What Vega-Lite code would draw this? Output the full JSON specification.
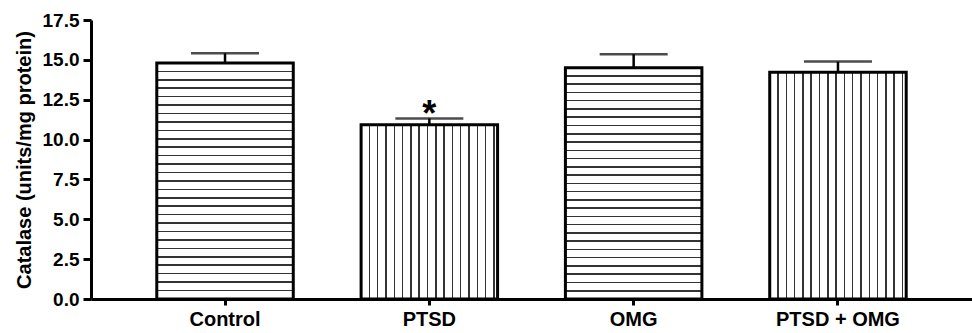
{
  "$schema": "https://vega.github.io/schema/vega-lite/v6.json",
  "autosize": "none",
  "width": 881,
  "height": 279,
  "padding": {"left": 91, "top": 20, "right": 0, "bottom": 34},
  "background": "white",
  "data": {
    "values": [
      {"group": "Control", "mean": 14.81, "sem": 0.6, "sig": ""},
      {"group": "PTSD", "mean": 10.93, "sem": 0.39, "sig": "*"},
      {"group": "OMG", "mean": 14.51, "sem": 0.84, "sig": ""},
      {"group": "PTSD + OMG", "mean": 14.23, "sem": 0.66, "sig": ""}
    ]
  },
  "config": {
    "view": {"stroke": null},
    "font": "Liberation Sans",
    "axis": {
      "domainColor": "black",
      "domainWidth": 3,
      "tickColor": "black",
      "tickWidth": 3,
      "labelColor": "black",
      "labelFont": "Liberation Sans",
      "labelFontWeight": "bold",
      "titleFont": "Liberation Sans",
      "titleFontWeight": "bold",
      "titleColor": "black",
      "grid": false,
      "labelOverlap": false
    },
    "axisY": {
      "titleFontSize": 20,
      "titlePadding": 8,
      "format": ".1f",
      "labelFontSize": 19,
      "tickSize": 8,
      "labelPadding": 4,
      "labelFlush": false
    }
  },
  "encoding": {
    "x": {
      "field": "group",
      "type": "nominal",
      "sort": ["Control", "PTSD", "OMG", "PTSD + OMG"],
      "scale": {"paddingInner": 0.332, "paddingOuter": 0.322},
      "axis": {"title": null, "labelAngle": 0, "labelFontSize": 20, "tickSize": 6, "labelPadding": 4}
    },
    "y": {
      "field": "mean",
      "type": "quantitative",
      "scale": {"domain": [0, 17.5], "nice": false},
      "axis": {
        "title": "Catalase (units/mg protein)",
        "values": [0, 2.5, 5, 7.5, 10, 12.5, 15, 17.5]
      }
    }
  },
  "layer": [
    {
      "mark": {
        "type": "errorbar",
        "ticks": {"size": 68, "thickness": 2.5, "color": "black"},
        "rule": {"strokeWidth": 2.5, "color": "black"}
      },
      "encoding": {
        "yError": {"field": "sem"}
      }
    },
    {
      "transform": [{"filter": "datum.group == 'Control' || datum.group == 'OMG'"}],
      "mark": {
        "type": "bar",
        "stroke": "black",
        "strokeWidth": 3,
        "fill": {
          "gradient": "linear", "x1": 0, "y1": 0, "x2": 0, "y2": 1,
          "stops": [
            {"offset": 0, "color": "#fff"},
            {"offset": 0.0324, "color": "#fff"}, {"offset": 0.0324, "color": "#333"}, {"offset": 0.0390, "color": "#333"}, {"offset": 0.0390, "color": "#fff"},
            {"offset": 0.0681, "color": "#fff"}, {"offset": 0.0681, "color": "#333"}, {"offset": 0.0747, "color": "#333"}, {"offset": 0.0747, "color": "#fff"},
            {"offset": 0.1038, "color": "#fff"}, {"offset": 0.1038, "color": "#333"}, {"offset": 0.1104, "color": "#333"}, {"offset": 0.1104, "color": "#fff"},
            {"offset": 0.1396, "color": "#fff"}, {"offset": 0.1396, "color": "#333"}, {"offset": 0.1462, "color": "#333"}, {"offset": 0.1462, "color": "#fff"},
            {"offset": 0.1753, "color": "#fff"}, {"offset": 0.1753, "color": "#333"}, {"offset": 0.1819, "color": "#333"}, {"offset": 0.1819, "color": "#fff"},
            {"offset": 0.2110, "color": "#fff"}, {"offset": 0.2110, "color": "#333"}, {"offset": 0.2176, "color": "#333"}, {"offset": 0.2176, "color": "#fff"},
            {"offset": 0.2467, "color": "#fff"}, {"offset": 0.2467, "color": "#333"}, {"offset": 0.2533, "color": "#333"}, {"offset": 0.2533, "color": "#fff"},
            {"offset": 0.2824, "color": "#fff"}, {"offset": 0.2824, "color": "#333"}, {"offset": 0.2890, "color": "#333"}, {"offset": 0.2890, "color": "#fff"},
            {"offset": 0.3181, "color": "#fff"}, {"offset": 0.3181, "color": "#333"}, {"offset": 0.3247, "color": "#333"}, {"offset": 0.3247, "color": "#fff"},
            {"offset": 0.3538, "color": "#fff"}, {"offset": 0.3538, "color": "#333"}, {"offset": 0.3604, "color": "#333"}, {"offset": 0.3604, "color": "#fff"},
            {"offset": 0.3896, "color": "#fff"}, {"offset": 0.3896, "color": "#333"}, {"offset": 0.3962, "color": "#333"}, {"offset": 0.3962, "color": "#fff"},
            {"offset": 0.4253, "color": "#fff"}, {"offset": 0.4253, "color": "#333"}, {"offset": 0.4319, "color": "#333"}, {"offset": 0.4319, "color": "#fff"},
            {"offset": 0.4610, "color": "#fff"}, {"offset": 0.4610, "color": "#333"}, {"offset": 0.4676, "color": "#333"}, {"offset": 0.4676, "color": "#fff"},
            {"offset": 0.4967, "color": "#fff"}, {"offset": 0.4967, "color": "#333"}, {"offset": 0.5033, "color": "#333"}, {"offset": 0.5033, "color": "#fff"},
            {"offset": 0.5324, "color": "#fff"}, {"offset": 0.5324, "color": "#333"}, {"offset": 0.5390, "color": "#333"}, {"offset": 0.5390, "color": "#fff"},
            {"offset": 0.5681, "color": "#fff"}, {"offset": 0.5681, "color": "#333"}, {"offset": 0.5747, "color": "#333"}, {"offset": 0.5747, "color": "#fff"},
            {"offset": 0.6038, "color": "#fff"}, {"offset": 0.6038, "color": "#333"}, {"offset": 0.6104, "color": "#333"}, {"offset": 0.6104, "color": "#fff"},
            {"offset": 0.6396, "color": "#fff"}, {"offset": 0.6396, "color": "#333"}, {"offset": 0.6462, "color": "#333"}, {"offset": 0.6462, "color": "#fff"},
            {"offset": 0.6753, "color": "#fff"}, {"offset": 0.6753, "color": "#333"}, {"offset": 0.6819, "color": "#333"}, {"offset": 0.6819, "color": "#fff"},
            {"offset": 0.7110, "color": "#fff"}, {"offset": 0.7110, "color": "#333"}, {"offset": 0.7176, "color": "#333"}, {"offset": 0.7176, "color": "#fff"},
            {"offset": 0.7467, "color": "#fff"}, {"offset": 0.7467, "color": "#333"}, {"offset": 0.7533, "color": "#333"}, {"offset": 0.7533, "color": "#fff"},
            {"offset": 0.7824, "color": "#fff"}, {"offset": 0.7824, "color": "#333"}, {"offset": 0.7890, "color": "#333"}, {"offset": 0.7890, "color": "#fff"},
            {"offset": 0.8181, "color": "#fff"}, {"offset": 0.8181, "color": "#333"}, {"offset": 0.8247, "color": "#333"}, {"offset": 0.8247, "color": "#fff"},
            {"offset": 0.8538, "color": "#fff"}, {"offset": 0.8538, "color": "#333"}, {"offset": 0.8604, "color": "#333"}, {"offset": 0.8604, "color": "#fff"},
            {"offset": 0.8896, "color": "#fff"}, {"offset": 0.8896, "color": "#333"}, {"offset": 0.8962, "color": "#333"}, {"offset": 0.8962, "color": "#fff"},
            {"offset": 0.9253, "color": "#fff"}, {"offset": 0.9253, "color": "#333"}, {"offset": 0.9319, "color": "#333"}, {"offset": 0.9319, "color": "#fff"},
            {"offset": 0.9610, "color": "#fff"}, {"offset": 0.9610, "color": "#333"}, {"offset": 0.9676, "color": "#333"}, {"offset": 0.9676, "color": "#fff"},
            {"offset": 1, "color": "#fff"}
          ]
        }
      }
    },
    {
      "transform": [{"filter": "datum.group == 'PTSD' || datum.group == 'PTSD + OMG'"}],
      "mark": {
        "type": "bar",
        "stroke": "black",
        "strokeWidth": 3,
        "fill": {
          "gradient": "linear", "x1": 0, "y1": 0, "x2": 1, "y2": 0,
          "stops": [
            {"offset": 0, "color": "#fff"},
            {"offset": 0.0553, "color": "#fff"}, {"offset": 0.0553, "color": "#333"}, {"offset": 0.0663, "color": "#333"}, {"offset": 0.0663, "color": "#fff"},
            {"offset": 0.1161, "color": "#fff"}, {"offset": 0.1161, "color": "#333"}, {"offset": 0.1271, "color": "#333"}, {"offset": 0.1271, "color": "#fff"},
            {"offset": 0.1769, "color": "#fff"}, {"offset": 0.1769, "color": "#333"}, {"offset": 0.1879, "color": "#333"}, {"offset": 0.1879, "color": "#fff"},
            {"offset": 0.2377, "color": "#fff"}, {"offset": 0.2377, "color": "#333"}, {"offset": 0.2487, "color": "#333"}, {"offset": 0.2487, "color": "#fff"},
            {"offset": 0.2985, "color": "#fff"}, {"offset": 0.2985, "color": "#333"}, {"offset": 0.3095, "color": "#333"}, {"offset": 0.3095, "color": "#fff"},
            {"offset": 0.3593, "color": "#fff"}, {"offset": 0.3593, "color": "#333"}, {"offset": 0.3703, "color": "#333"}, {"offset": 0.3703, "color": "#fff"},
            {"offset": 0.4201, "color": "#fff"}, {"offset": 0.4201, "color": "#333"}, {"offset": 0.4311, "color": "#333"}, {"offset": 0.4311, "color": "#fff"},
            {"offset": 0.4809, "color": "#fff"}, {"offset": 0.4809, "color": "#333"}, {"offset": 0.4919, "color": "#333"}, {"offset": 0.4919, "color": "#fff"},
            {"offset": 0.5417, "color": "#fff"}, {"offset": 0.5417, "color": "#333"}, {"offset": 0.5527, "color": "#333"}, {"offset": 0.5527, "color": "#fff"},
            {"offset": 0.6025, "color": "#fff"}, {"offset": 0.6025, "color": "#333"}, {"offset": 0.6135, "color": "#333"}, {"offset": 0.6135, "color": "#fff"},
            {"offset": 0.6633, "color": "#fff"}, {"offset": 0.6633, "color": "#333"}, {"offset": 0.6743, "color": "#333"}, {"offset": 0.6743, "color": "#fff"},
            {"offset": 0.7241, "color": "#fff"}, {"offset": 0.7241, "color": "#333"}, {"offset": 0.7351, "color": "#333"}, {"offset": 0.7351, "color": "#fff"},
            {"offset": 0.7849, "color": "#fff"}, {"offset": 0.7849, "color": "#333"}, {"offset": 0.7959, "color": "#333"}, {"offset": 0.7959, "color": "#fff"},
            {"offset": 0.8457, "color": "#fff"}, {"offset": 0.8457, "color": "#333"}, {"offset": 0.8567, "color": "#333"}, {"offset": 0.8567, "color": "#fff"},
            {"offset": 0.9065, "color": "#fff"}, {"offset": 0.9065, "color": "#333"}, {"offset": 0.9175, "color": "#333"}, {"offset": 0.9175, "color": "#fff"},
            {"offset": 0.9673, "color": "#fff"}, {"offset": 0.9673, "color": "#333"}, {"offset": 0.9783, "color": "#333"}, {"offset": 0.9783, "color": "#fff"},
            {"offset": 1, "color": "#fff"}
          ]
        }
      }
    },
    {
      "transform": [
        {"filter": "datum.sig != ''"},
        {"calculate": "datum.mean + datum.sem", "as": "upper"}
      ],
      "mark": {"type": "text", "fontSize": 36, "fontWeight": "bold", "font": "Liberation Sans", "baseline": "alphabetic", "align": "center", "dy": 7, "color": "black"},
      "encoding": {
        "y": {
          "field": "upper",
          "type": "quantitative",
          "axis": {
            "title": "Catalase (units/mg protein)",
            "values": [0, 2.5, 5, 7.5, 10, 12.5, 15, 17.5]
          }
        },
        "text": {"field": "sig"}
      }
    }
  ]
}
